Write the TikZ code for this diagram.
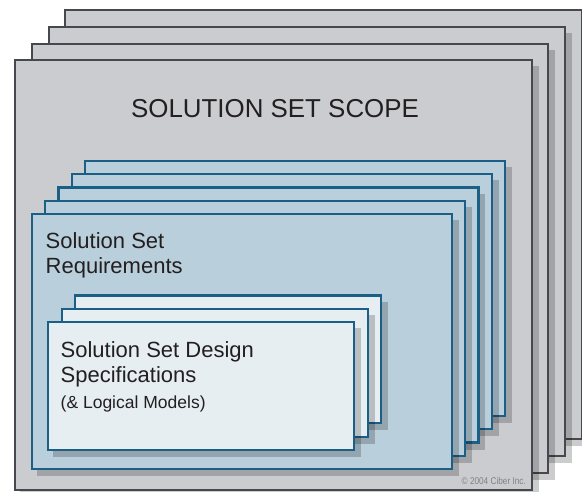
\documentclass[tikz,border=0pt]{standalone}
\usepackage{fontspec}
\setmainfont{Liberation Sans}
\definecolor{scopefill}{HTML}{CBCCD0}
\definecolor{scopeline}{HTML}{45494D}
\definecolor{reqfill}{HTML}{B9CFDB}
\definecolor{specfill}{HTML}{E6EEF2}
\definecolor{blueline}{HTML}{1B5E86}
\definecolor{inktext}{HTML}{231F20}
\definecolor{notetext}{HTML}{7E8185}
\tikzset{
  sheetshadow/.style={fill=black, fill opacity=0.2},
  scopesheet/.style={fill=scopefill, draw=scopeline, line width=2pt, line join=miter},
  reqsheet/.style={fill=reqfill, draw=blueline, line width=2.1pt, line join=miter},
  specsheet/.style={fill=specfill, draw=blueline, line width=2.1pt, line join=miter},
  label/.style={inner sep=0pt, text=inktext, anchor=base west},
}
\begin{document}
\begin{tikzpicture}[x=1pt, y=-1pt]
  \useasboundingbox (0,0) rectangle (582,491);
  \fill[white] (0,0) rectangle (582,491);

  % Scope stack: four grey sheets, back to front
  \foreach \k in {3,2,1,0} {
    \pgfmathsetmacro{\dx}{16.77*\k}
    \fill[sheetshadow] ({15+\dx+5},{60.3-\dx+6}) rectangle ({531.7+\dx+7},{489.7-\dx+7});
    \draw[scopesheet] ({15+\dx},{60.3-\dx}) rectangle ({531.7+\dx},{489.7-\dx});
  }
  \node[label, anchor=base, font=\fontsize{25.9}{30}\selectfont] (scope) at (275,117.3) {SOLUTION SET SCOPE};

  % Requirements stack: five blue sheets
  \foreach \k in {4,3,2,1,0} {
    \pgfmathsetmacro{\dx}{13.38*\k}
    \fill[sheetshadow] ({31.7+\dx+5},{214.3-\dx+6}) rectangle ({451.7+\dx+7},{469.3-\dx+7});
    \draw[reqsheet] ({31.7+\dx},{214.3-\dx}) rectangle ({451.7+\dx},{469.3-\dx});
  }
  \node[label, font=\fontsize{22}{24}\selectfont] (req1) at (45.5,248.5) {Solution Set};
  \node[label, font=\fontsize{22}{24}\selectfont] (req2) at (45.5,273) {Requirements};

  % Design specification stack: three pale sheets
  \foreach \k in {2,1,0} {
    \pgfmathsetmacro{\dx}{13.4*\k}
    \fill[sheetshadow] ({48.3+\dx+5},{322.3-\dx+6}) rectangle ({354.3+\dx+7},{450-\dx+7});
    \draw[specsheet] ({48.3+\dx},{322.3-\dx}) rectangle ({354.3+\dx},{450-\dx});
  }
  \node[label, font=\fontsize{22}{24}\selectfont] (spec1) at (60.5,357) {Solution Set Design};
  \node[label, font=\fontsize{22}{24}\selectfont] (spec2) at (60.5,382.3) {Specifications};
  \node[label, font=\fontsize{17.5}{20}\selectfont] (spec3) at (60.5,408) {(\& Logical Models)};

  % Copyright note
  \node[inner sep=0pt, anchor=base west, text=notetext, font=\fontsize{9.8}{11}\selectfont, xscale=0.84, transform shape] (note) at (461.5,484.5) {\textcopyright{} 2004 Ciber Inc.};
\end{tikzpicture}
\end{document}
